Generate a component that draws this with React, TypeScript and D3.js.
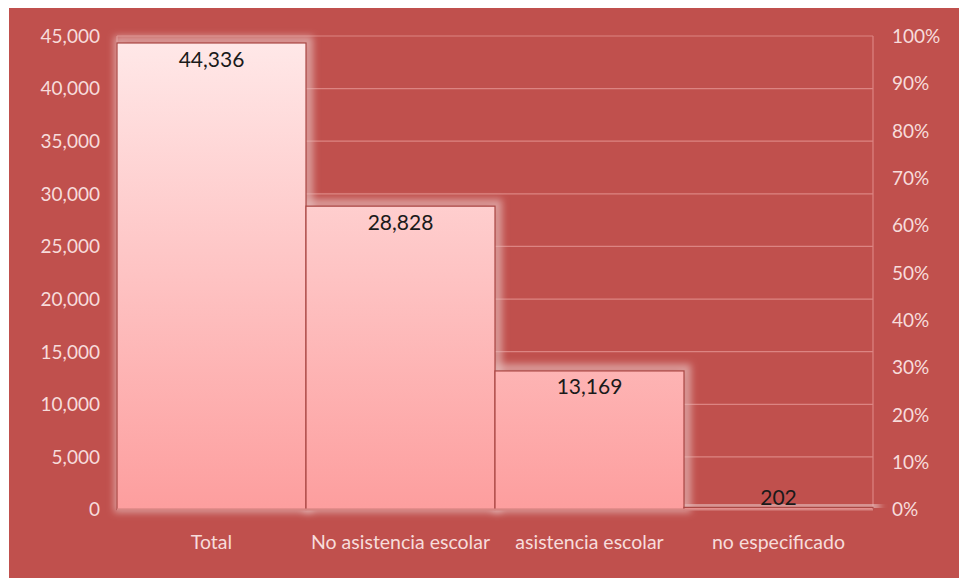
import React from "react";
import * as d3 from "d3";

const categories = ["Total", "No asistencia escolar", "asistencia escolar", "no especificado"];
const values = [44336, 28828, 13169, 202];
const leftTicks = [0, 5000, 10000, 15000, 20000, 25000, 30000, 35000, 40000, 45000];
const rightTicks = [0, 10, 20, 30, 40, 50, 60, 70, 80, 90, 100];

const W = 959;
const H = 578;
const FONT = "Lato, 'Open Sans', sans-serif";

export default function App() {
  const x = d3.scaleBand<string>().domain(categories).range([117, 873]).paddingInner(0).paddingOuter(0);
  const y = d3.scaleLinear().domain([0, 45000]).range([509.5, 36]);
  const yp = d3.scaleLinear().domain([0, 100]).range([509.5, 36]);
  const fmt = d3.format(",");

  return (
    <svg width={W} height={H} style={{ position: "absolute", left: 0, top: 0 }}>
      <defs>
        <linearGradient id="barGrad" gradientUnits="userSpaceOnUse" x1="0" y1={y(45000)} x2="0" y2={y(0)}>
          <stop offset="0" stopColor="#ffe9e9" />
          <stop offset="1" stopColor="#fd9e9e" />
        </linearGradient>
        <filter id="glow" x="-20%" y="-20%" width="140%" height="140%">
          <feGaussianBlur stdDeviation="3.5" />
        </filter>
      </defs>
      <rect x={9} y={8} width={W - 9} height={H - 8} fill="#c0504d" />
      {/* gridlines */}
      {leftTicks.map((t) => (
        <line key={"g" + t} x1={117} x2={873} y1={y(t)} y2={y(t)} stroke="#dc8482" strokeWidth={1.2} />
      ))}
      <line x1={873} x2={873} y1={y(45000)} y2={y(0)} stroke="#dc8482" strokeWidth={1.2} />
      <line x1={117} x2={117} y1={y(45000)} y2={y(0)} stroke="#dc8482" strokeWidth={1.2} />
      {/* glows */}
      {categories.map((c, i) => {
        const x0 = x(c)!;
        const top = y(values[i]);
        return (
          <rect
            key={"gl" + c}
            x={x0 + 2}
            y={top - 2}
            width={x.bandwidth()}
            height={y(0) - top}
            fill="none"
            stroke="#e6bcbb"
            strokeOpacity={0.7}
            strokeWidth={10}
            filter="url(#glow)"
          />
        );
      })}
      {/* bars */}
      {categories.map((c, i) => {
        const x0 = x(c)!;
        const top = y(values[i]);
        return (
          <rect
            key={"b" + c}
            x={x0}
            y={top}
            width={x.bandwidth()}
            height={y(0) - top}
            fill="url(#barGrad)"
            stroke="#a94643"
            strokeWidth={1.2}
          />
        );
      })}
      <line x1={117} x2={873} y1={y(0)} y2={y(0)} stroke="#d88583" strokeWidth={2} />
      {/* value labels */}
      {categories.map((c, i) => {
        const top = y(values[i]);
        const h = y(0) - top;
        const cy = h > 30 ? top + 16 : top - 10;
        return (
          <text
            key={"v" + c}
            x={x(c)! + x.bandwidth() / 2}
            y={cy}
            dy="0.36em"
            textAnchor="middle"
            fontFamily={FONT}
            fontSize={21}
            fill="#1a1a1a"
          >
            {fmt(values[i])}
          </text>
        );
      })}
      {/* left axis */}
      {leftTicks.map((t) => (
        <text key={"l" + t} x={100} y={y(t)} dy="0.36em" textAnchor="end" fontFamily={FONT} fontSize={19} fill="#f7dcdb">
          {fmt(t)}
        </text>
      ))}
      {/* right axis */}
      {rightTicks.map((t) => (
        <text key={"r" + t} x={892} y={yp(t)} dy="0.36em" textAnchor="start" fontFamily={FONT} fontSize={19} fill="#f7dcdb">
          {t + "%"}
        </text>
      ))}
      {/* category labels */}
      {categories.map((c) => (
        <text key={"c" + c} x={x(c)! + x.bandwidth() / 2} y={542} dy="0.36em" textAnchor="middle" fontFamily={FONT} fontSize={19.5} fill="#f7dcdb">
          {c}
        </text>
      ))}
    </svg>
  );
}
